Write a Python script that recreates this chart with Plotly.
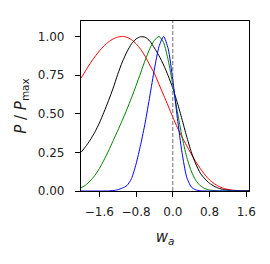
import plotly.graph_objects as go

w_a = [-2.0, -1.9, -1.8, -1.7, -1.6, -1.5, -1.4, -1.3, -1.2, -1.1, -1.0, -0.9, -0.8, -0.7,
       -0.6, -0.5, -0.4, -0.3, -0.2, -0.1, 0.0, 0.1, 0.2, 0.3, 0.4, 0.5, 0.6, 0.7, 0.8, 0.9,
       1.0, 1.1, 1.2, 1.3, 1.4, 1.5, 1.6, 1.7]

p_red = [0.73, 0.778, 0.825, 0.868, 0.906, 0.939, 0.965, 0.984, 0.996, 1.0, 0.995, 0.979, 0.953,
         0.917, 0.87, 0.814, 0.76, 0.69, 0.62, 0.55, 0.478, 0.41, 0.35, 0.295, 0.24, 0.19, 0.145,
         0.105, 0.072, 0.048, 0.03, 0.018, 0.01, 0.006, 0.003, 0.0015, 0.0007, 0.0003]

p_black = [0.25, 0.287, 0.33, 0.38, 0.44, 0.51, 0.585, 0.665, 0.755, 0.835, 0.9, 0.952, 0.984,
           0.998, 0.995, 0.97, 0.925, 0.875, 0.815, 0.745, 0.665, 0.57, 0.465, 0.355, 0.255,
           0.175, 0.115, 0.078, 0.05, 0.031, 0.018, 0.01, 0.006, 0.003, 0.0015, 0.0007, 0.0003,
           0.0001]

p_green = [0.02, 0.038, 0.065, 0.1, 0.145, 0.2, 0.26, 0.325, 0.39, 0.458, 0.528, 0.603, 0.682,
           0.765, 0.848, 0.922, 0.976, 1.0, 0.96, 0.846, 0.687, 0.513, 0.353, 0.223, 0.13, 0.069,
           0.034, 0.0155, 0.0065, 0.0025, 0.0009, 0.0003, 0.0001, 0.0, 0.0, 0.0, 0.0, 0.0]

p_blue = [0.0, 0.0, 0.0, 0.0, 0.0, 0.0, 0.001, 0.003, 0.008, 0.019, 0.035, 0.08, 0.175, 0.30,
          0.445, 0.615, 0.79, 0.935, 1.0, 0.92, 0.72, 0.47, 0.25, 0.092, 0.027, 0.0074, 0.0017,
          0.0003, 0.0, 0.0, 0.0, 0.0, 0.0, 0.0, 0.0, 0.0, 0.0, 0.0]

x_ticks = [-1.6, -0.8, 0.0, 0.8, 1.6]
y_ticks = [0.0, 0.25, 0.5, 0.75, 1.0]

series = [(p_red, "#ff0000"), (p_black, "#000000"), (p_green, "#008000"), (p_blue, "#0000ff")]

fig = go.Figure()
for ys, col in series:
    fig.add_trace(go.Scatter(x=w_a, y=ys, mode="lines",
                             line=dict(color=col, width=1, shape="spline", smoothing=0.6),
                             showlegend=False, hoverinfo="skip"))

fig.add_shape(type="line", x0=0, x1=0, y0=0, y1=1, xref="x", yref="paper",
              line=dict(color="#707070", width=1, dash="4px,2px"))

axis_common = dict(showgrid=False, zeroline=False, showline=True, mirror=True,
                   linecolor="black", linewidth=1.2, ticks="outside", ticklen=5,
                   tickwidth=1, tickcolor="black",
                   tickfont=dict(family="DejaVu Sans", size=12, color="#222222"))

fig.update_xaxes(range=[-2.0, 1.66], tickvals=x_ticks, tickformat=".1f",
                 ticklabelstandoff=4,
                 title=dict(text="<i>w<sub>a</sub></i>",
                            font=dict(family="DejaVu Sans", size=15, color="#222222"),
                            standoff=13),
                 **axis_common)
fig.update_yaxes(range=[0, 1.1], tickvals=y_ticks, tickformat=".2f",
                 ticklabelstandoff=8,
                 title=dict(text="<i>P</i> / <i>P</i><sub>max</sub>",
                            font=dict(family="DejaVu Sans", size=15, color="#222222"),
                            standoff=7),
                 **axis_common)

fig.update_layout(width=262, height=256, margin=dict(l=71, r=21, t=12, b=73),
                  plot_bgcolor="white", paper_bgcolor="white")

fig.write_html("out.html")
